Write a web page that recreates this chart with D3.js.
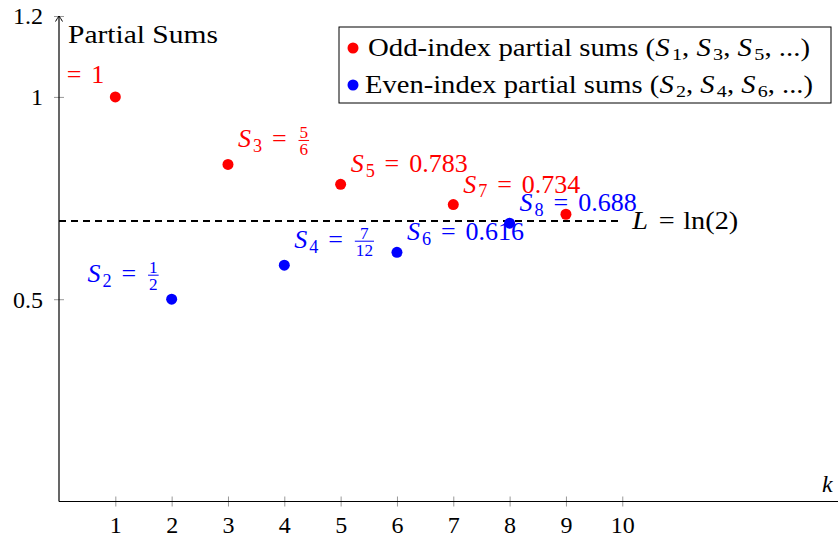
<!DOCTYPE html>
<html>
<head>
<meta charset="utf-8">
<script src="https://cdn.jsdelivr.net/npm/d3@7"></script>
<style>
  body { margin: 0; background: #fff; }
</style>
</head>
<body>
<div id="chart"></div>
<script>
'use strict';

// partial sums of the alternating harmonic series
const oddK = [1, 3, 5, 7, 9];
const oddS = [1, 0.833, 0.784, 0.734, 0.71];
const evenK = [2, 4, 6, 8];
const evenS = [0.5, 0.584, 0.616, 0.688];
const oddLabels = ['1', [5, 6], '0.783', '0.734', null];
const evenLabels = [[1, 2], [7, 12], '0.616', '0.688'];
const limitL = 0.693;
const xTicks = [1, 2, 3, 4, 5, 6, 7, 8, 9, 10];
const yTicks = [0.5, 1, 1.2];
const legendItems = [
    { color: 'red', idx: ['1', '3', '5'], text: 'Odd-index partial sums (' },
    { color: 'blue', idx: ['2', '4', '6'], text: 'Even-index partial sums (' }
];

const FONT = "'Liberation Serif', 'Times New Roman', serif";
const width = 838, height = 539;
const x = d3.scaleLinear().domain([0, 13.83]).range([59, 838]);
const y = d3.scaleLinear().domain([0, 1.2]).range([501.5, 16]);

const svg = d3.select('#chart').append('svg')
    .attr('width', width)
    .attr('height', height)
    .attr('font-family', FONT);

svg.append('defs').append('clipPath').attr('id', 'plotclip')
    .append('rect')
    .attr('x', x(0)).attr('y', 0)
    .attr('width', width - x(0)).attr('height', y(0));

// writes a little math-ish string piece by piece, returns its width
function mathText(g, pieces, size, color) {
    let cx = 0;
    pieces.forEach(p => {
        if (p.gap) {
            cx += p.gap * size;
        } else if (p.frac) {
            const fs = size * 0.66;
            const bar = -size * 0.27;
            const num = g.append('text').style('font-family', FONT).attr('font-size', fs).attr('fill', color).text(p.frac[0]);
            const den = g.append('text').style('font-family', FONT).attr('font-size', fs).attr('fill', color).text(p.frac[1]);
            const wn = num.node().getComputedTextLength();
            const wd = den.node().getComputedTextLength();
            const w = Math.max(wn, wd) + 2;
            num.attr('x', cx + 2 + (w - wn) / 2).attr('y', bar - 2.5);
            den.attr('x', cx + 2 + (w - wd) / 2).attr('y', bar + 3 + fs * 0.68);
            g.append('line')
                .attr('x1', cx + 2).attr('x2', cx + 2 + w)
                .attr('y1', bar).attr('y2', bar)
                .attr('stroke', color).attr('stroke-width', 1);
            cx += w + 4;
        } else {
            const t = g.append('text')
                .attr('x', cx)
                .attr('y', p.sub ? size * 0.17 : 0)
                .attr('font-size', p.sub ? size * 0.7 : size)
                .attr('font-style', p.it ? 'italic' : null)
                .attr('fill', color)
                .style('font-family', FONT)
                .style('white-space', 'pre')
                .text(p.t);
            cx += t.node().getComputedTextLength() + (p.it ? 2 : 0);
        }
    });
    return cx;
}

// axes
const xAxis = svg.append('g')
    .attr('transform', 'translate(0,' + y(0) + ')')
    .call(d3.axisBottom(x).tickValues(xTicks).tickFormat(d => String(d)).tickSize(5));
xAxis.attr('font-family', FONT);
xAxis.select('.domain').remove();
xAxis.selectAll('.tick line').attr('y1', -5).attr('y2', 5).attr('stroke', '#999');
xAxis.selectAll('.tick text').attr('y', 31).attr('dy', 0)
    .attr('font-size', 24).attr('fill', '#000');

const yAxis = svg.append('g')
    .attr('transform', 'translate(' + x(0) + ',0)')
    .call(d3.axisLeft(y).tickValues(yTicks).tickFormat(d => String(d)).tickSize(5));
yAxis.attr('font-family', FONT);
yAxis.select('.domain').remove();
yAxis.selectAll('.tick line').attr('x1', -5).attr('x2', 5).attr('stroke', '#999');
yAxis.selectAll('.tick text').attr('x', -16).attr('dy', '0.33em')
    .attr('font-size', 24).attr('fill', '#000');

svg.append('line')
    .attr('x1', x(0)).attr('x2', width)
    .attr('y1', y(0)).attr('y2', y(0))
    .attr('stroke', '#000').attr('stroke-width', 1.2);
svg.append('line')
    .attr('x1', x(0)).attr('x2', x(0))
    .attr('y1', y(0)).attr('y2', y(1.2))
    .attr('stroke', '#000').attr('stroke-width', 1.2);
svg.append('path')
    .attr('d', 'M' + (x(0) - 3.5) + ',' + (y(1.2) + 5.5) +
        ' Q' + (x(0) - 1.5) + ',' + (y(1.2) + 2) + ' ' + x(0) + ',' + y(1.2) +
        ' Q' + (x(0) + 1.5) + ',' + (y(1.2) + 2) + ' ' + (x(0) + 3.5) + ',' + (y(1.2) + 5.5))
    .attr('fill', 'none').attr('stroke', '#000').attr('stroke-width', 1);

// y label, widened a bit to get closer to the TeX font
const yl = svg.append('text')
    .attr('font-size', 26)
    .style('font-family', FONT)
    .text('Partial Sums');
const ylw = yl.node().getComputedTextLength();
yl.attr('transform', 'translate(' + (x(0) + 9) + ',43) scale(' + (150 / ylw) + ',1)');

svg.append('text')
    .attr('x', width - 16).attr('y', 492)
    .attr('font-size', 24).attr('font-style', 'italic')
    .style('font-family', FONT)
    .text('k');

const plot = svg.append('g').attr('clip-path', 'url(#plotclip)');

// limit line
plot.append('line')
    .attr('x1', x(0)).attr('x2', x(10))
    .attr('y1', y(limitL)).attr('y2', y(limitL))
    .attr('stroke', '#000').attr('stroke-width', 2)
    .attr('stroke-dasharray', '7 5');
const lg = plot.append('g');
const lw = mathText(lg, [{ t: 'L', it: true }, { gap: 0.3 }, { t: '=' }, { gap: 0.3 }, { t: 'ln(2)' }], 25, '#000');
lg.attr('transform', 'translate(' + (x(10) + 10) + ',' + (y(limitL) + 8) + ') scale(' + (106 / lw) + ',1)');

// points and their labels
function drawSeries(ks, vals, labels, color) {
    plot.append('g').selectAll('circle')
        .data(ks)
        .enter().append('circle')
        .attr('cx', d => x(d))
        .attr('cy', (d, i) => y(vals[i]))
        .attr('r', 5.5)
        .attr('fill', color);

    ks.forEach((k, i) => {
        const lab = labels[i];
        if (lab === null) { return; }
        const isFrac = Array.isArray(lab);
        const pieces = [{ t: 'S', it: true }, { t: String(k), sub: true }, { gap: 0.38 }, { t: '=' }, { gap: 0.38 }];
        pieces.push(isFrac ? { frac: lab } : { t: lab });
        const g = plot.append('g');
        const w = mathText(g, pieces, 26, color);
        const left = k <= 2;
        const px = left ? x(k) - 11 - w : x(k) + 10;
        const py = y(vals[i]) - (isFrac ? 17 : (left ? 14 : 12));
        g.attr('transform', 'translate(' + px + ',' + py + ')');
    });
}
drawSeries(oddK, oddS, oddLabels, 'red');
drawSeries(evenK, evenS, evenLabels, 'blue');

// legend
const legend = svg.append('g');
legend.append('rect')
    .attr('x', 339).attr('y', 27)
    .attr('width', 492).attr('height', 76)
    .attr('fill', '#fff').attr('stroke', '#000').attr('stroke-width', 1);
legendItems.forEach((item, i) => {
    const rowY = 48 + i * 37;
    legend.append('circle')
        .attr('cx', 353).attr('cy', rowY).attr('r', 5.5)
        .attr('fill', item.color);
    const pieces = [{ t: item.text }];
    item.idx.forEach(s => {
        pieces.push({ t: 'S', it: true }, { t: s, sub: true }, { t: ', ' });
    });
    pieces.push({ t: '...)' });
    const g = legend.append('g');
    const w = mathText(g, pieces, 25, '#000');
    const sx = (i === 0 ? 442 : 448) / w;
    g.attr('transform', 'translate(' + (589 - w * sx / 2) + ',' + (rowY + 8) + ') scale(' + sx + ',1)');
});
</script>
</body>
</html>
